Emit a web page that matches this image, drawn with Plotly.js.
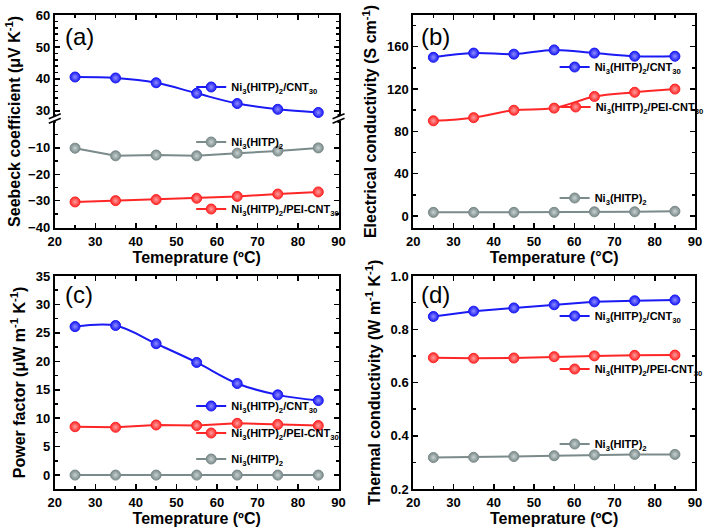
<!DOCTYPE html>
<html>
<head>
<meta charset="utf-8">
<script src="https://cdn.plot.ly/plotly-3.0.1.min.js"></script>
<style>
html,body{margin:0;padding:0;background:#fff;}
#chart{width:709px;height:530px;}
</style>
</head>
<body>
<div id="chart"></div>
<script>
// ---------- data ----------
const temperature = [25, 35, 45, 55, 65, 75, 85];

// (a) Seebeck coefficient (uV/K)
const seebeckCNT    = [40.6, 40.3, 38.8, 35.5, 32.3, 30.5, 29.5];
const seebeckPure   = [-10.1, -13.0, -12.7, -13.0, -12.0, -11.2, -10.0];
const seebeckPEI    = [-30.5, -30.0, -29.6, -29.1, -28.4, -27.5, -26.7];

// (b) Electrical conductivity (S/cm)
const condCNT  = [150, 154, 153, 157, 154, 151, 151];
const condPEI  = [90, 93, 100, 102, 113, 117, 120];
const condPure = [3.5, 3.5, 3.5, 3.5, 4.0, 4.0, 4.5];

// (c) Power factor (uW m-1 K-2)
const pfCNT  = [26.1, 26.3, 23.1, 19.8, 16.1, 14.1, 13.1];
const pfPEI  = [8.5, 8.4, 8.8, 8.7, 9.1, 8.9, 8.7];
const pfPure = [0.0, 0.0, 0.0, 0.0, 0.0, 0.0, 0.0];

// (d) Thermal conductivity (W m-1 K-1)
const kCNT  = [0.848, 0.868, 0.880, 0.892, 0.903, 0.907, 0.910];
const kPEI  = [0.693, 0.691, 0.692, 0.697, 0.700, 0.702, 0.703];
const kPure = [0.318, 0.319, 0.322, 0.325, 0.328, 0.330, 0.330];

const nameCNT  = 'Ni<sub>3</sub>(HITP)<sub>2</sub>/CNT<sub>30</sub>';
const namePEI  = 'Ni<sub>3</sub>(HITP)<sub>2</sub>/PEI-CNT<sub>30</sub>';
const namePure = 'Ni<sub>3</sub>(HITP)<sub>2</sub>';

// tick labels
const xTickVals = [20, 30, 40, 50, 60, 70, 80, 90];
const seebeckLowerTicks = [-40, -30, -20, -10];
const kTickVals = [0.2, 0.4, 0.6, 0.8, 1.0];
const kTickText = ['0.2', '0.4', '0.6', '0.8', '1.0'];

// ---------- styles ----------
const W = 709, H = 530;
const FONT = 'Liberation Sans, Arial, sans-serif';
const BLUE = '#1a1af5', RED = '#ff2626', GRAY = '#7b8a8a';
const LIGHT = {[BLUE]: '#8f8fff', [RED]: '#ffa0a0', [GRAY]: '#c8d2d2'};

function px2x(p){ return p / W; }
function px2y(p){ return 1 - p / H; }

function series(x, y, name, color, xa, ya, legend, spline){
  return {
    type: 'scatter', mode: 'lines+markers', x: x, y: y, name: name,
    xaxis: xa, yaxis: ya, legend: legend, showlegend: true,
    line: {color: color, width: 2, shape: spline ? 'spline' : 'linear', smoothing: 1},
    marker: {color: color, size: 10, symbol: 'circle',
             gradient: {type: 'radial', color: LIGHT[color]},
             line: {color: color, width: 1}},
    cliponaxis: false
  };
}

const traces = [
  // (a)
  series(temperature, seebeckCNT, nameCNT, BLUE, 'x5', 'y5', 'legend', true),
  series(temperature, seebeckPure, namePure, GRAY, 'x', 'y', 'legend2', false),
  series(temperature, seebeckPEI, namePEI, RED, 'x', 'y', 'legend3', false),
  // (b)
  series(temperature, condCNT, nameCNT, BLUE, 'x2', 'y2', 'legend4', true),
  series(temperature, condPEI, namePEI, RED, 'x2', 'y2', 'legend5', true),
  series(temperature, condPure, namePure, GRAY, 'x2', 'y2', 'legend6', false),
  // (c)
  series(temperature, pfCNT, nameCNT, BLUE, 'x3', 'y3', 'legend7', true),
  series(temperature, pfPEI, namePEI, RED, 'x3', 'y3', 'legend8', false),
  series(temperature, pfPure, namePure, GRAY, 'x3', 'y3', 'legend9', false),
  // (d)
  series(temperature, kCNT, nameCNT, BLUE, 'x4', 'y4', 'legend10', false),
  series(temperature, kPEI, namePEI, RED, 'x4', 'y4', 'legend11', false),
  series(temperature, kPure, namePure, GRAY, 'x4', 'y4', 'legend12', false)
];

const tickFont = {family: FONT, size: 13, color: '#000', weight: 'bold'};
const titleFont = {family: FONT, size: 16, color: '#000', weight: 'bold'};

function xaxis(domain, anchor, title, opts){
  return Object.assign({
    domain: domain, anchor: anchor, range: [20, 90],
    tickmode: 'array', tickvals: xTickVals,
    ticks: 'inside', ticklen: 5, tickwidth: 1.5, tickcolor: '#000',
    minor: {dtick: 5, tick0: 0, ticks: 'inside', ticklen: 3, tickwidth: 1.5, tickcolor: '#000', showgrid: false},
    showline: true, linewidth: 2, linecolor: '#000', mirror: 'allticks',
    showgrid: false, zeroline: false,
    tickfont: tickFont,
    title: {text: title, font: titleFont, standoff: 4},
    automargin: false, fixedrange: true
  }, opts || {});
}
function yaxis(domain, anchor, range, dtick, minorDtick, title, opts){
  return Object.assign({
    domain: domain, anchor: anchor, range: range, dtick: dtick, tick0: 0,
    ticks: 'inside', ticklen: 5, tickwidth: 1.5, tickcolor: '#000',
    minor: {dtick: minorDtick, tick0: 0, ticks: 'inside', ticklen: 3, tickwidth: 1.5, tickcolor: '#000', showgrid: false},
    showline: true, linewidth: 2, linecolor: '#000', mirror: 'allticks',
    showgrid: false, zeroline: false,
    tickfont: tickFont,
    title: {text: title, font: titleFont, standoff: 6},
    automargin: false, fixedrange: true
  }, opts || {});
}

const xA = [px2x(55), px2x(340)];
const xB = [px2x(415), px2x(698)];
const rowTop = [px2y(228), px2y(15)];
const rowBot = [px2y(489), px2y(276)];
const aLower = [px2y(228), px2y(121)];
const aUpper = [px2y(116), px2y(15)];

function legendAt(xp, yp){
  return {x: px2x(xp), y: px2y(yp), xanchor: 'left', yanchor: 'middle',
          bgcolor: 'rgba(0,0,0,0)', borderwidth: 0, itemwidth: 30,
          font: {family: FONT, size: 11, color: '#000', weight: 'bold'},
          itemclick: false, itemdoubleclick: false};
}

// break marks for panel (a)
function breakMark(xp){
  const yc = 118.5;
  const s = [];
  [-2.2, 2.2].forEach(function(d){
    s.push({type: 'line', xref: 'paper', yref: 'paper',
      x0: px2x(xp - 6), y0: px2y(yc + d + 2.5), x1: px2x(xp + 6), y1: px2y(yc + d - 2.5),
      line: {color: '#000', width: 1.6}});
  });
  return s;
}

const layout = {
  width: W, height: H,
  margin: {l: 0, r: 0, t: 0, b: 0},
  paper_bgcolor: '#fff', plot_bgcolor: 'rgba(0,0,0,0)',
  font: {family: FONT, color: '#000'},
  // (a) lower + upper
  xaxis: xaxis(xA, 'y', 'Temeprature (ºC)', {mirror: false}),
  yaxis: yaxis(aLower, 'x', [-40.38, 0.2], 10, 5, '', {tickmode: 'array', tickvals: seebeckLowerTicks}),
  xaxis5: xaxis(xA, 'y5', '', {side: 'top', showticklabels: false, mirror: false, matches: 'x'}),
  yaxis5: yaxis(aUpper, 'x5', [28.4, 60], 10, 2, ''),
  // (b)
  xaxis2: xaxis(xB, 'y2', 'Temperature (°C)'),
  yaxis2: yaxis(rowTop, 'x2', [-11.3, 190], 40, 20, 'Electrical conductivity (S cm<sup>-1</sup>)'),
  // (c)
  xaxis3: xaxis(xA, 'y3', 'Temeprature (ºC)'),
  yaxis3: yaxis(rowBot, 'x3', [-2.45, 35], 5, 2.5, 'Power factor (μW m<sup>-1</sup> K<sup>-1</sup>)'),
  // (d)
  xaxis4: xaxis(xB, 'y4', 'Temeprature (ºC)'),
  yaxis4: yaxis(rowBot, 'x4', [0.2, 1.0], 0.2, 0.1, 'Thermal conductivity (W m<sup>-1</sup> K<sup>-1</sup>)',
                {tickmode: 'array', tickvals: kTickVals, ticktext: kTickText}),
  legend:   legendAt(192, 87),
  legend2:  legendAt(192, 142),
  legend3:  legendAt(192, 209),
  legend4:  legendAt(557, 67),
  legend5:  legendAt(558, 107),
  legend6:  legendAt(557, 198),
  legend7:  legendAt(192, 406),
  legend8:  legendAt(192, 433),
  legend9:  legendAt(192, 459),
  legend10: legendAt(557, 316),
  legend11: legendAt(557, 369),
  legend12: legendAt(557, 444),
  annotations: [
    {text: 'Seebeck coefficient (μV K<sup>-1</sup>)', xref: 'paper', yref: 'paper',
     x: px2x(13), y: px2y(121), textangle: -90, showarrow: false,
     xanchor: 'center', yanchor: 'middle', font: titleFont},
    {text: '(a)', xref: 'paper', yref: 'paper', x: px2x(63), y: px2y(37), showarrow: false,
     xanchor: 'left', yanchor: 'middle', font: {family: FONT, size: 24, color: '#000'}},
    {text: '(b)', xref: 'paper', yref: 'paper', x: px2x(421), y: px2y(37), showarrow: false,
     xanchor: 'left', yanchor: 'middle', font: {family: FONT, size: 24, color: '#000'}},
    {text: '(c)', xref: 'paper', yref: 'paper', x: px2x(63), y: px2y(294), showarrow: false,
     xanchor: 'left', yanchor: 'middle', font: {family: FONT, size: 24, color: '#000'}},
    {text: '(d)', xref: 'paper', yref: 'paper', x: px2x(421), y: px2y(294), showarrow: false,
     xanchor: 'left', yanchor: 'middle', font: {family: FONT, size: 24, color: '#000'}}
  ],
  shapes: [].concat(breakMark(55), breakMark(340), [
    // frame segments of panel (a) that span the break
    {type: 'line', xref: 'paper', yref: 'paper', x0: px2x(55), x1: px2x(55), y0: px2y(114), y1: px2y(116.5), line: {color: '#000', width: 2}},
    {type: 'line', xref: 'paper', yref: 'paper', x0: px2x(55), x1: px2x(55), y0: px2y(120.5), y1: px2y(123), line: {color: '#000', width: 2}},
    {type: 'line', xref: 'paper', yref: 'paper', x0: px2x(340), x1: px2x(340), y0: px2y(114), y1: px2y(116.5), line: {color: '#000', width: 2}},
    {type: 'line', xref: 'paper', yref: 'paper', x0: px2x(340), x1: px2x(340), y0: px2y(120.5), y1: px2y(123), line: {color: '#000', width: 2}}
  ])
};

Plotly.newPlot('chart', traces, layout, {displayModeBar: false, staticPlot: true});
</script>
</body>
</html>
